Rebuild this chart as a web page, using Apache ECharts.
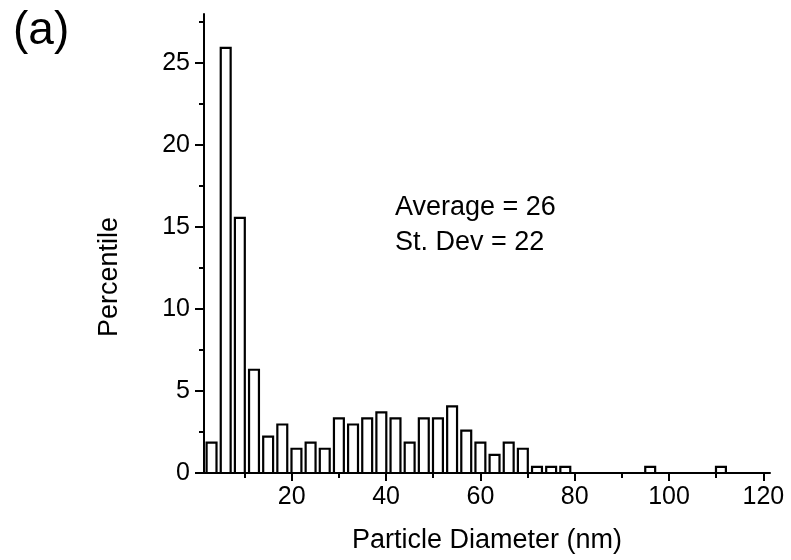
<!DOCTYPE html>
<html>
<head>
<meta charset="utf-8">
<script src="https://cdn.jsdelivr.net/npm/echarts@6/dist/echarts.min.js"></script>
<style>html,body{margin:0;padding:0;background:#fff;}#c{width:791px;height:560px;}</style>
</head>
<body>
<div id="c"></div>
<script>
// Histogram bins: centre diameter (nm) and percent of particles
const binCenters = [3, 6, 9, 12, 15, 18, 21, 24, 27, 30, 33, 36, 39, 42, 45, 48, 51, 54, 57, 60, 63, 66, 69, 72, 75, 78, 96, 111];
const percentValues = [1.85, 25.93, 15.56, 6.30, 2.22, 2.96, 1.48, 1.85, 1.48, 3.33, 2.96, 3.33, 3.70, 3.33, 1.85, 3.33, 3.33, 4.07, 2.59, 1.85, 1.11, 1.85, 1.48, 0.37, 0.37, 0.37, 0.37, 0.37];
const xMajorTicks = [20, 40, 60, 80, 100, 120];
const xMinorTicks = [10, 30, 50, 70, 90, 110];
const yMajorTicks = [0, 5, 10, 15, 20, 25];
const yMinorTicks = [2.5, 7.5, 12.5, 17.5, 22.5, 27.5];
const xTitle = 'Particle Diameter (nm)';
const yTitle = 'Percentile';
const panelLabel = '(a)';
const statLines = ['Average = 26', 'St. Dev = 22'];

const FONT = 'Liberation Sans, Arial, sans-serif';
const BAR_W = 2.1;
const chart = echarts.init(document.getElementById('c'), null, {renderer: 'canvas'});
const data = binCenters.map((x, i) => [x, percentValues[i]]);

const axisCommonX = {min: 1.4, max: 121.4, splitLine: {show: false}, gridIndex: 0};
const axisCommonY = {min: 0, max: 28, splitLine: {show: false}, gridIndex: 0};

chart.setOption({
  animation: false,
  backgroundColor: '#fff',
  grid: {left: 204, right: 21, top: 14, bottom: 87},
  xAxis: [
    Object.assign({
      type: 'value', position: 'bottom',
      name: xTitle, nameLocation: 'middle', nameGap: 54,
      nameTextStyle: {fontFamily: FONT, fontSize: 27, color: '#000'},
      axisLine: {show: true, onZero: false, lineStyle: {color: '#000', width: 2}},
      axisTick: {show: true, inside: false, length: 8, lineStyle: {color: '#000', width: 2}, customValues: xMajorTicks},
      axisLabel: {show: true, margin: 12, fontFamily: FONT, fontSize: 25, color: '#000', customValues: xMajorTicks}
    }, axisCommonX),
    Object.assign({
      type: 'value', position: 'bottom',
      axisLine: {show: false, onZero: false},
      axisTick: {show: true, length: 5, lineStyle: {color: '#000', width: 2}, customValues: xMinorTicks},
      axisLabel: {show: false}
    }, axisCommonX)
  ],
  yAxis: [
    Object.assign({
      type: 'value', position: 'left',
      axisLine: {show: true, onZero: false, lineStyle: {color: '#000', width: 2}},
      axisTick: {show: true, length: 9, lineStyle: {color: '#000', width: 2}, customValues: yMajorTicks},
      axisLabel: {show: true, margin: 14, fontFamily: FONT, fontSize: 25, color: '#000', customValues: yMajorTicks}
    }, axisCommonY),
    Object.assign({
      type: 'value', position: 'left',
      axisLine: {show: false, onZero: false},
      axisTick: {show: true, length: 5, lineStyle: {color: '#000', width: 2}, customValues: yMinorTicks},
      axisLabel: {show: false}
    }, axisCommonY)
  ],
  graphic: [
    {type: 'text', left: 13, top: 8, style: {text: panelLabel, font: '46px ' + FONT, fill: '#000'}},
    {type: 'text', x: 110, y: 277, rotation: Math.PI / 2,
     style: {text: yTitle, font: '27px ' + FONT, fill: '#000', textAlign: 'center', textVerticalAlign: 'middle'}},
    {type: 'text', x: 395, y: 208, style: {text: statLines[0], font: '27px ' + FONT, fill: '#000', textAlign: 'left', textVerticalAlign: 'middle'}},
    {type: 'text', x: 395, y: 243, style: {text: statLines[1], font: '27px ' + FONT, fill: '#000', textAlign: 'left', textVerticalAlign: 'middle'}}
  ],
  series: [{
    type: 'custom',
    xAxisIndex: 0, yAxisIndex: 0,
    data: data,
    clip: false,
    renderItem: function (params, api) {
      const x = api.value(0), y = api.value(1);
      const p0 = api.coord([x - BAR_W / 2, 0]);
      const p1 = api.coord([x + BAR_W / 2, y]);
      return {
        type: 'rect',
        shape: {x: p0[0], y: p1[1], width: p1[0] - p0[0], height: p0[1] - p1[1]},
        style: {fill: '#fff', stroke: '#000', lineWidth: 2.2}
      };
    }
  }]
});
</script>
</body>
</html>
